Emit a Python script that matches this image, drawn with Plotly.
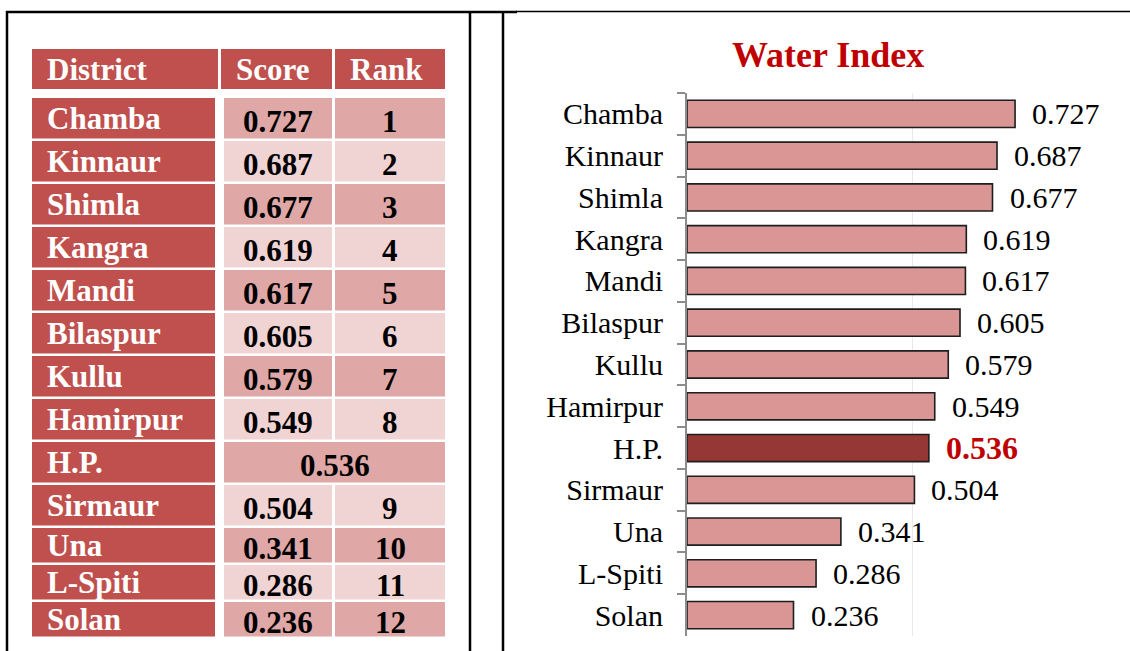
import plotly.graph_objects as go

# ---------------- data ----------------
districts = ["Chamba", "Kinnaur", "Shimla", "Kangra", "Mandi", "Bilaspur", "Kullu",
             "Hamirpur", "H.P.", "Sirmaur", "Una", "L-Spiti", "Solan"]
scores = [0.727, 0.687, 0.677, 0.619, 0.617, 0.605, 0.579, 0.549, 0.536, 0.504,
          0.341, 0.286, 0.236]
ranks = ["1", "2", "3", "4", "5", "6", "7", "8", "", "9", "10", "11", "12"]
headers = ["District", "Score", "Rank"]
chart_title = "Water Index"
state_label = "H.P."

# ---------------- layout constants ----------------
W, H = 1130, 651
SERIF = "Liberation Serif"
DARK_RED = "#C0504D"
PINK_DARK = "#DFA7A6"
PINK_LIGHT = "#F0D3D3"
BAR = "#D99694"
BAR_STATE = "#953735"
TITLE_RED = "#C00000"


def fx(px):
    return px / W


def fy(py):
    return 1 - py / H


# table geometry (in the table axis, which is measured in page pixels)
head_top, head_h = 49, 40
head_cols = [(32, 218), (221, 332), (335, 445)]
data_cols = [(32, 215), (224, 332), (335, 445)]
row_top0 = 98
row_heights = [40.5] * 10 + [34.5] * 3
row_gap = 2.5

row_centers = []
t = row_top0
for h in row_heights:
    row_centers.append(t + h / 2)
    t += h + row_gap

shade = [PINK_DARK if i % 2 == 0 else PINK_LIGHT for i in range(len(districts))]

fig = go.Figure()

# ---------------- main bar chart ----------------
bar_colors = [BAR_STATE if d == state_label else BAR for d in districts]
fig.add_trace(go.Bar(
    x=scores, y=districts, orientation="h",
    marker=dict(color=bar_colors, line=dict(color="#1E1E1E", width=1.6)),
    hoverinfo="x+y", showlegend=False, xaxis="x", yaxis="y",
))

annotations = []
for d, s in zip(districts, scores):
    if d == state_label:
        txt = f"<b>{s:.3f}</b>"
        col = TITLE_RED
        size = 32
    else:
        txt = f"{s:.3f}"
        col = "#000000"
        size = 30
    annotations.append(dict(
        x=s, y=d, xref="x", yref="y", text=txt, showarrow=False,
        xanchor="left", yanchor="middle", xshift=15,
        font=dict(family=SERIF, size=size, color=col),
    ))

annotations.append(dict(
    x=fx(828), y=fy(55), xref="paper", yref="paper", text=f"<b>{chart_title}</b>",
    showarrow=False, xanchor="center", yanchor="middle",
    font=dict(family=SERIF, size=36, color=TITLE_RED),
))

# ---------------- table (drawn as bars on a hidden axis) ----------------
fig.add_trace(go.Bar(
    orientation="h",
    y=[head_top + head_h / 2] * 3,
    base=[c[0] for c in head_cols],
    x=[c[1] - c[0] for c in head_cols],
    width=[head_h] * 3,
    marker=dict(color=DARK_RED, line=dict(width=0)),
    xaxis="x2", yaxis="y2", hoverinfo="skip", showlegend=False,
))
for (l, r), h in zip(head_cols, headers):
    annotations.append(dict(
        x=l + 13, y=head_top + head_h / 2, xref="x2", yref="y2",
        text=f"<b>{h}</b>", showarrow=False, xanchor="left", yanchor="middle",
        font=dict(family=SERIF, size=31, color="white"),
    ))

dl, dr = data_cols[0]
fig.add_trace(go.Bar(
    orientation="h", y=row_centers, base=[dl] * len(districts),
    x=[dr - dl] * len(districts), width=row_heights,
    marker=dict(color=DARK_RED, line=dict(width=0)),
    xaxis="x2", yaxis="y2", hoverinfo="skip", showlegend=False,
))

sl, sr = data_cols[1]
rl, rr = data_cols[2]
score_w = [(rr - sl) if d == state_label else (sr - sl) for d in districts]
fig.add_trace(go.Bar(
    orientation="h", y=row_centers, base=[sl] * len(districts),
    x=score_w, width=row_heights,
    marker=dict(color=shade, line=dict(width=0)),
    xaxis="x2", yaxis="y2", hoverinfo="skip", showlegend=False,
))

rank_w = [None if d == state_label else (rr - rl) for d in districts]
fig.add_trace(go.Bar(
    orientation="h", y=row_centers, base=[rl] * len(districts),
    x=rank_w, width=row_heights,
    marker=dict(color=shade, line=dict(width=0)),
    xaxis="x2", yaxis="y2", hoverinfo="skip", showlegend=False,
))

for d, s, rk, yc in zip(districts, scores, ranks, row_centers):
    annotations.append(dict(
        x=dl + 13, y=yc, xref="x2", yref="y2", text=f"<b>{d}</b>",
        showarrow=False, xanchor="left", yanchor="middle",
        font=dict(family=SERIF, size=31, color="white"),
    ))
    num_font = dict(family=SERIF, size=31, color="black")
    if d == state_label:
        annotations.append(dict(
            x=(sl + rr) / 2, y=yc, xref="x2", yref="y2", text=f"<b>{s:.3f}</b>",
            showarrow=False, xanchor="center", yanchor="middle", yshift=-3,
            font=num_font,
        ))
    else:
        annotations.append(dict(
            x=(sl + sr) / 2, y=yc, xref="x2", yref="y2", text=f"<b>{s:.3f}</b>",
            showarrow=False, xanchor="center", yanchor="middle", yshift=-3,
            font=num_font,
        ))
        annotations.append(dict(
            x=(rl + rr) / 2, y=yc, xref="x2", yref="y2", text=f"<b>{rk}</b>",
            showarrow=False, xanchor="center", yanchor="middle", yshift=-3,
            font=num_font,
        ))

# ---------------- frame lines ----------------
line = dict(color="black", width=2.5)
shapes = [
    dict(type="line", xref="paper", yref="paper", x0=fx(7), x1=fx(7), y0=fy(11), y1=0, line=line),
    dict(type="line", xref="paper", yref="paper", x0=fx(6), x1=fx(517), y0=fy(12), y1=fy(12), line=line),
    dict(type="line", xref="paper", yref="paper", x0=fx(516), x1=1, y0=fy(11.5), y1=fy(11.5),
         line=dict(color="black", width=1.5)),
    dict(type="line", xref="paper", yref="paper", x0=fx(470), x1=fx(470), y0=fy(11), y1=0, line=line),
    dict(type="line", xref="paper", yref="paper", x0=fx(503), x1=fx(503), y0=fy(11), y1=0, line=line),
]

fig.update_layout(
    width=W, height=H,
    margin=dict(l=0, r=0, t=0, b=0),
    paper_bgcolor="white", plot_bgcolor="rgba(0,0,0,0)",
    barmode="overlay", bargap=0.35,
    showlegend=False,
    xaxis=dict(
        domain=[fx(687), fx(1048)], range=[0, 0.8], dtick=0.5,
        showgrid=True, gridcolor="#E9E9E9", gridwidth=1,
        zeroline=False, showline=False, showticklabels=False, ticks="",
        fixedrange=True,
    ),
    yaxis=dict(
        domain=[fy(636), fy(93)], type="category", autorange="reversed",
        showline=True, linecolor="#8C8C8C", linewidth=2,
        ticks="outside", tickson="boundaries", ticklen=8, tickwidth=2, tickcolor="#8C8C8C",
        ticklabelstandoff=16,
        tickfont=dict(family=SERIF, size=30, color="black"),
        showgrid=False, zeroline=False, fixedrange=True,
    ),
    xaxis2=dict(domain=[0, 1], range=[0, W], visible=False, fixedrange=True, anchor="y2"),
    yaxis2=dict(domain=[0, 1], range=[H, 0], visible=False, fixedrange=True, anchor="x2"),
    annotations=annotations,
    shapes=shapes,
)

fig.write_html(
    "out.html",
    config={"displayModeBar": False},
    post_script="document.body.style.margin='0';document.body.style.overflow='hidden';",
)
